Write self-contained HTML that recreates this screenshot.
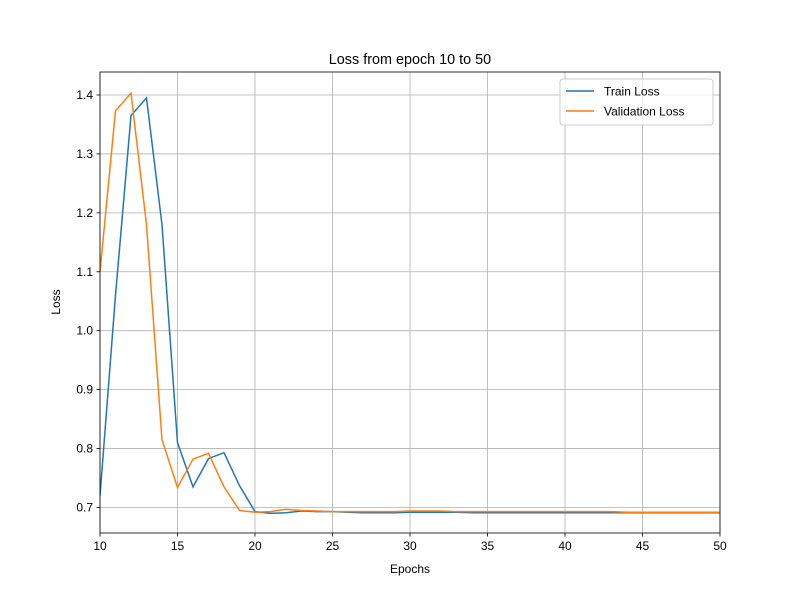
<!DOCTYPE html>
<html><head><meta charset="utf-8"><style>
body{margin:0;background:#fff}
svg{font-family:"Liberation Sans","DejaVu Sans",sans-serif}
</style></head><body>
<svg id="chart" width="800" height="600"></svg>
<script>
const epochs=[10,11,12,13,14,15,16,17,18,19,20,21,22,23,24,25,26,27,28,29,30,31,32,33,34,35,36,37,38,39,40,41,42,43,44,45,46,47,48,49,50];
const trainLoss=[0.72,1.06,1.365,1.395,1.18,0.81,0.735,0.783,0.793,0.737,0.693,0.690,0.691,0.694,0.693,0.693,0.692,0.691,0.691,0.691,0.692,0.692,0.692,0.692,0.691,0.691,0.691,0.691,0.691,0.691,0.691,0.691,0.691,0.691,0.691,0.691,0.691,0.691,0.691,0.691,0.691];
const valLoss=[1.10,1.373,1.403,1.18,0.815,0.734,0.782,0.792,0.735,0.695,0.692,0.693,0.697,0.695,0.694,0.693,0.693,0.693,0.693,0.693,0.694,0.694,0.694,0.693,0.693,0.693,0.693,0.693,0.693,0.693,0.693,0.693,0.693,0.693,0.692,0.692,0.692,0.692,0.692,0.692,0.692];
const xTicks=[10,15,20,25,30,35,40,45,50];
const yTicks=[0.7,0.8,0.9,1.0,1.1,1.2,1.3,1.4];
const NS="http://www.w3.org/2000/svg";
const svg=document.getElementById('chart');
const L=100,R=720,T=72,B=533;
const xs=v=>L+(v-10)*(R-L)/40;
const ys=v=>507.5-(v-0.7)*589.3;
function el(t,a,p){const e=document.createElementNS(NS,t);for(const k in a)e.setAttribute(k,a[k]);(p||svg).appendChild(e);return e;}
xTicks.forEach(t=>{
 const g=el('line',{x1:xs(t),x2:xs(t),y1:T,y2:B,stroke:'#b0b0b0','stroke-width':0.8});
 
 
 el('line',{x1:xs(t),x2:xs(t),y1:B,y2:B+3.5,stroke:'#000','stroke-width':0.8});
 const tx=el('text',{x:xs(t),y:B+17,'text-anchor':'middle','font-size':12});tx.textContent=t;
 
 
});
yTicks.forEach(t=>{
 const g=el('line',{x1:L,x2:R,y1:ys(t),y2:ys(t),stroke:'#b0b0b0','stroke-width':0.8});
 
 
 el('line',{x1:L-3.5,x2:L,y1:ys(t),y2:ys(t),stroke:'#000','stroke-width':0.8});
 const tx=el('text',{x:L-7,y:ys(t)+4,'text-anchor':'end','font-size':12});tx.textContent=t.toFixed(1);
 
 
});
const clip=el('clipPath',{id:'c'});el('rect',{x:L,y:T,width:R-L,height:B-T},clip);
function line(data,color,name){
 const p=el('polyline',{points:epochs.map((e,i)=>xs(e)+','+ys(data[i])).join(' '),fill:'none',stroke:color,'stroke-width':1.5,'clip-path':'url(#c)'});
 
 
}
line(trainLoss,'#1f77b4','train-loss-line');
line(valLoss,'#ff7f0e','validation-loss-line');
el('rect',{x:L,y:T,width:R-L,height:B-T,fill:'none',stroke:'#000','stroke-width':0.8});
let t=el('text',{x:410,y:64,'text-anchor':'middle','font-size':14.4});t.textContent='Loss from epoch 10 to 50';

t=el('text',{x:410,y:573,'text-anchor':'middle','font-size':12});t.textContent='Epochs';

t=el('text',{x:60,y:302,'text-anchor':'middle','font-size':12,transform:'rotate(-90 60 302)'});t.textContent='Loss';

const lg=el('g',{});


el('rect',{x:560,y:79,width:153,height:46,rx:3,fill:'#fff','fill-opacity':0.8,stroke:'#ccc'},lg);
el('line',{x1:566,x2:594,y1:91,y2:91,stroke:'#1f77b4','stroke-width':1.5},lg);
t=el('text',{x:604,y:95.5,'font-size':12},lg);t.textContent='Train Loss';

el('line',{x1:566,x2:594,y1:111,y2:111,stroke:'#ff7f0e','stroke-width':1.5},lg);
t=el('text',{x:604,y:115.5,'font-size':12},lg);t.textContent='Validation Loss';

</script>
</body></html>
